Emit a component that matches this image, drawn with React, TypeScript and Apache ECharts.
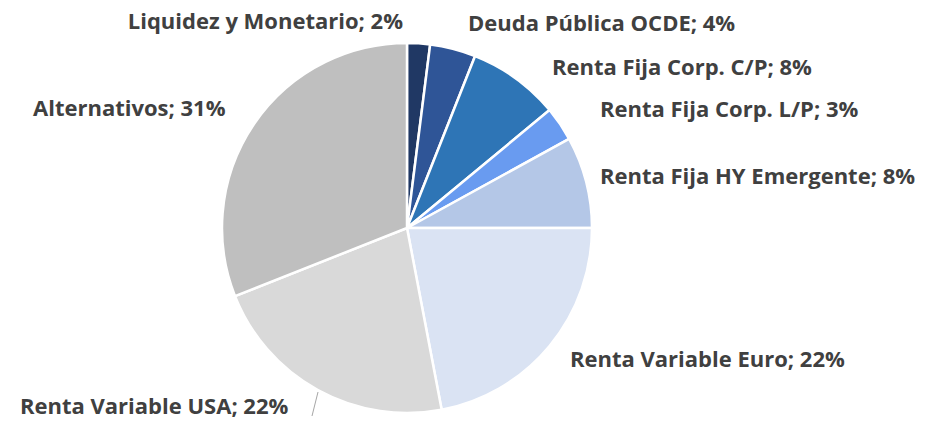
import React, { useEffect, useRef } from "react";
import * as echarts from "echarts";

const categories = [
  "Liquidez y Monetario",
  "Deuda Pública OCDE",
  "Renta Fija Corp. C/P",
  "Renta Fija Corp. L/P",
  "Renta Fija HY Emergente",
  "Renta Variable Euro",
  "Renta Variable USA",
  "Alternativos",
];
const values = [2, 4, 8, 3, 8, 22, 22, 31];
const colors = ["#203864", "#2F5597", "#2E75B6", "#699BF0", "#B4C7E7", "#DAE3F3", "#D9D9D9", "#BFBFBF"];

// label anchor positions [x, y, align]
const labelPos: [number, number, string][] = [
  [403, 20, "right"],
  [468, 22, "left"],
  [552, 66, "left"],
  [600, 108, "left"],
  [600, 175, "left"],
  [570, 358, "left"],
  [20, 405, "left"],
  [33, 107, "left"],
];

export default function App() {
  const ref = useRef<HTMLDivElement>(null);
  useEffect(() => {
    const chart = echarts.init(ref.current!, null, { renderer: "svg" });
    chart.setOption({
      animation: false,
      backgroundColor: "#ffffff",
      series: [
        {
          type: "pie",
          center: [407, 228],
          radius: [0, 185],
          startAngle: 90,
          clockwise: true,
          itemStyle: { borderColor: "#ffffff", borderWidth: 2.5 },
          label: {
            show: true,
            position: "outside",
            formatter: (p: any) => `${p.name}; ${p.value}%`,
            color: "#404040",
            fontFamily: "Open Sans",
            fontWeight: "bold",
            fontSize: 22,
            lineHeight: 26,
            overflow: "none",
            width: 400,
          },
          labelLine: { show: false },
          labelLayout: (params: any) => {
            const i = params.dataIndex;
            const [x, y, align] = labelPos[i];
            const res: any = { x, y, align, verticalAlign: "middle" };
            if (i === 6) {
              res.labelLinePoints = [
                [318, 392],
                [312, 416],
                [312, 416],
              ];
            }
            return res;
          },
          data: categories.map((name, i) => ({
            name,
            value: values[i],
            itemStyle: { color: colors[i] },
            labelLine:
              i === 6
                ? { show: true, lineStyle: { color: "#A6A6A6", width: 1 } }
                : { show: false },
          })),
        },
      ],
    });
    return () => chart.dispose();
  }, []);
  return (
    <div
      ref={ref}
      style={{ position: "absolute", left: 0, top: 0, width: 943, height: 421 }}
    />
  );
}
